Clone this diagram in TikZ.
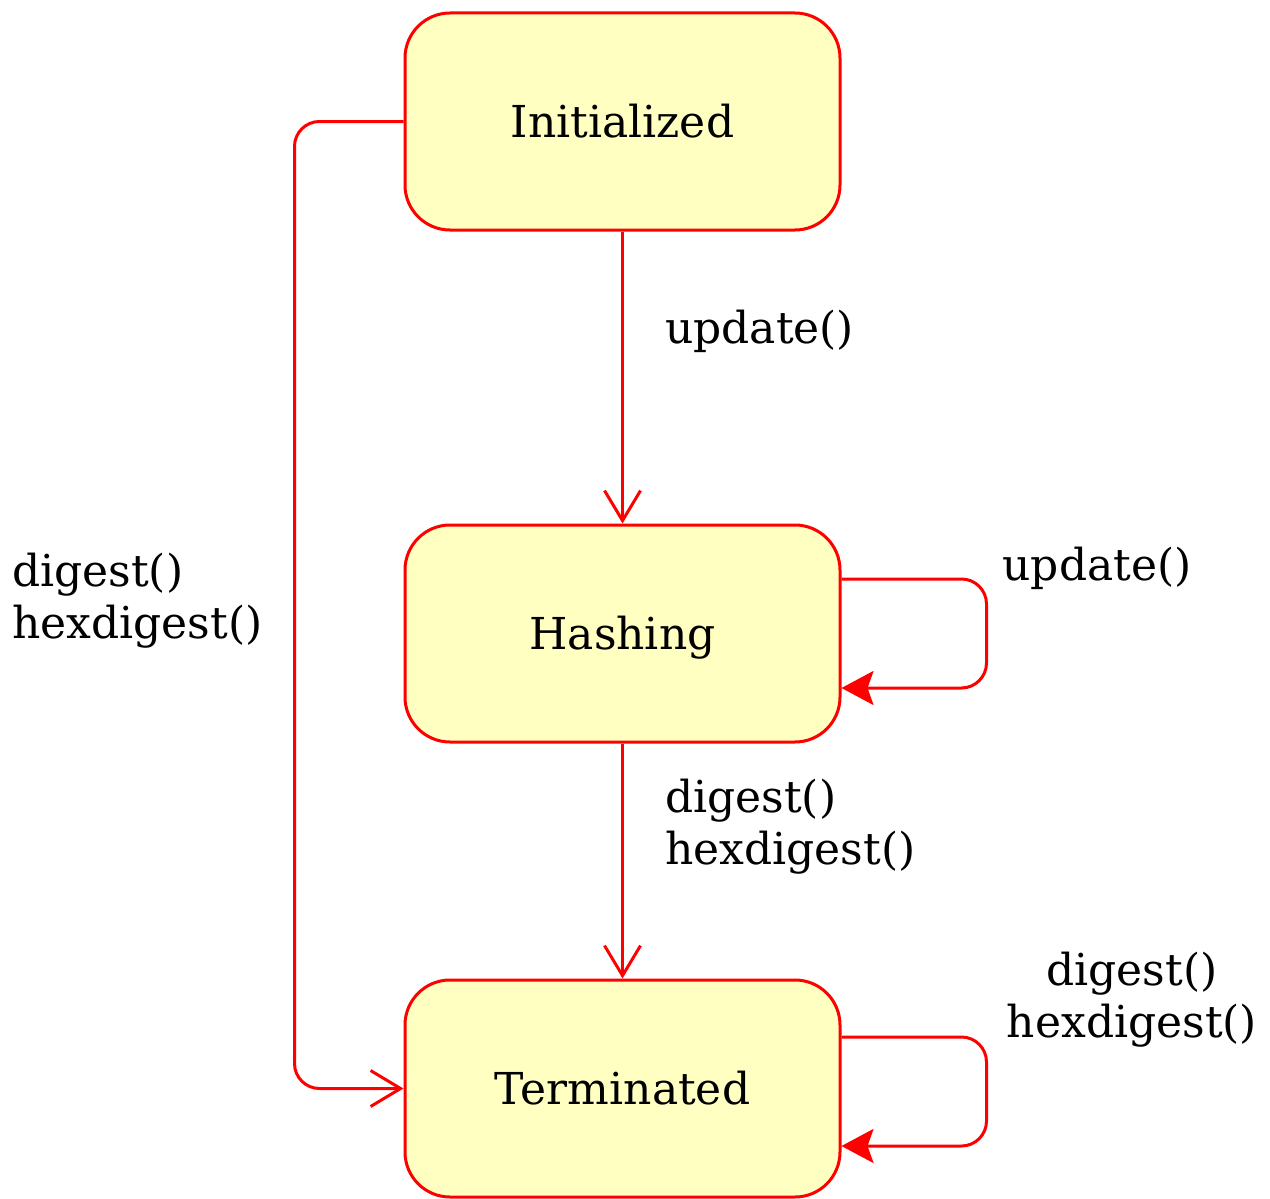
\documentclass[tikz,border=0pt]{standalone}
\usepackage{fontspec}
\setmainfont{DejaVu Serif}
\usetikzlibrary{arrows.meta,calc}
\definecolor{boxfill}{RGB}{255,255,194}
\definecolor{linered}{RGB}{255,0,0}
\begin{document}
\begin{tikzpicture}[x=1pt,y=-1pt,
  state/.style={draw=linered, fill=boxfill, line width=3pt, rounded corners=45pt,
    minimum width=435pt, minimum height=217pt, inner sep=0pt,
    text height=32pt, text depth=0pt,
    font=\fontsize{44}{52}\selectfont},
  conn/.style={draw=linered, line width=3pt, rounded corners=25pt},
  openarr/.style={-{Straight Barb[length=30pt,width=36pt,line width=3pt]}},
  fillarr/.style={-{Stealth[length=32pt,width=34pt,inset=6pt]}},
  lbl/.style={inner sep=0pt, font=\fontsize{44}{52}\selectfont}
]
\useasboundingbox (0,0) rectangle (1270,1199);
\node[state] (init) at (622.5,121.5) {Initialized};
\node[state] (hash) at (622.5,633.5) {Hashing};
\node[state] (term) at (622.5,1088.5) {Terminated};

\draw[conn, openarr] (init) -- (hash);
\draw[conn, openarr] (hash) -- (term);
\draw[conn, openarr] (init.west) -- ++(-109,0) |- (term.west);
\draw[conn, fillarr] ($(hash.east)+(0,-54.5)$) -- ++(145,0) |- ($(hash.east)+(0,54.5)$);
\draw[conn, fillarr] ($(term.east)+(0,-51.5)$) -- ++(145,0) |- ($(term.east)+(0,57.5)$);

\node[lbl, anchor=west] (l1) at (665,331) {update()};
\node[lbl, anchor=center] (l2) at (1097,568) {update()};
\node[lbl, anchor=west, align=left] (l3) at (665,827) {digest()\\hexdigest()};
\node[lbl, anchor=center, align=center] (l4) at (1132,1000) {digest()\\hexdigest()};
\node[lbl, anchor=west, align=left] (l5) at (12,601) {digest()\\hexdigest()};
\end{tikzpicture}
\end{document}
